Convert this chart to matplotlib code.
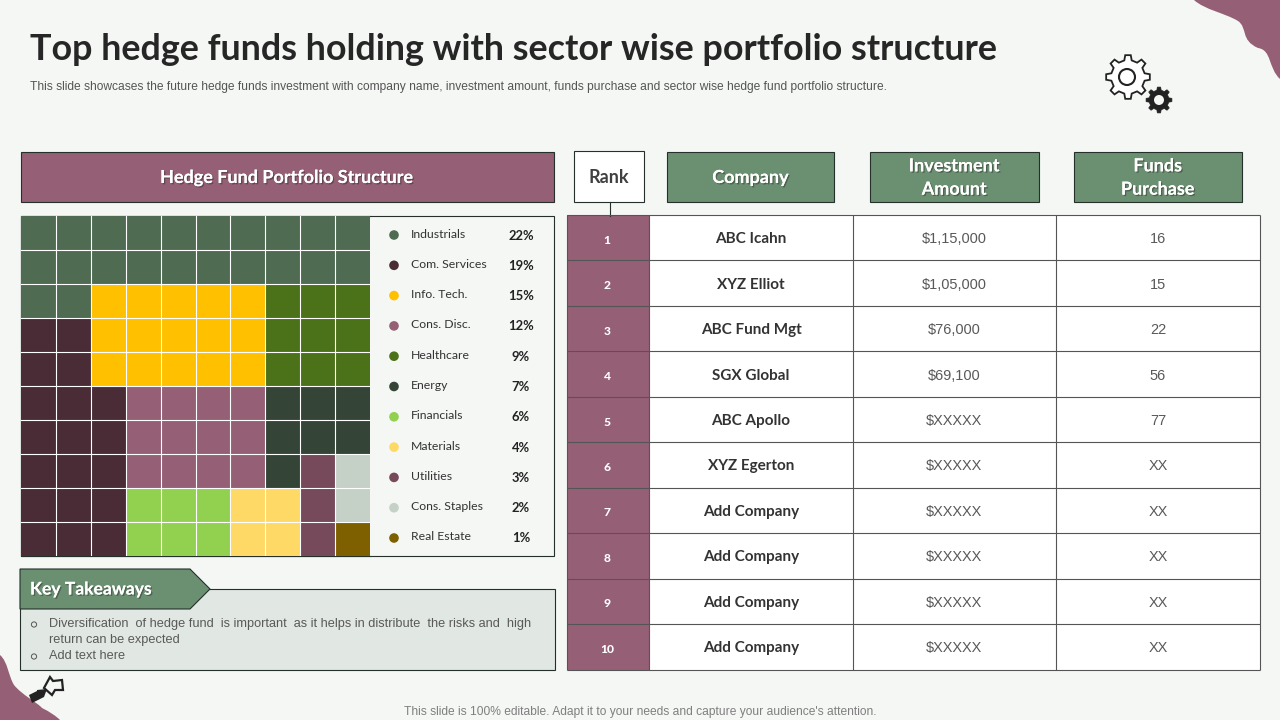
import numpy as np
import matplotlib
matplotlib.use('Agg')
import matplotlib.pyplot as plt
import matplotlib.patheffects as pe
from matplotlib.colors import ListedColormap
from matplotlib.patches import Rectangle, Polygon, PathPatch, Circle
from matplotlib.path import Path

# Data
sectors = ['Industrials', 'Com. Services', 'Info. Tech.', 'Cons. Disc.', 'Healthcare', 'Energy',
           'Financials', 'Materials', 'Utilities', 'Cons. Staples', 'Real Estate']
shares = ['22%', '19%', '15%', '12%', '9%', '7%', '6%', '4%', '3%', '2%', '1%']
sector_colors = ['#4F6B52', '#4A2C36', '#FFC000', '#955F75', '#4B7119', '#344537',
                 '#92D050', '#FFD966', '#764A5B', '#C5D0C7', '#7F6000']
# which sector every waffle cell belongs to, top row first
waffle = [
    [0, 0, 0, 0, 0, 0, 0, 0, 0, 0],
    [0, 0, 0, 0, 0, 0, 0, 0, 0, 0],
    [0, 0, 2, 2, 2, 2, 2, 4, 4, 4],
    [1, 1, 2, 2, 2, 2, 2, 4, 4, 4],
    [1, 1, 2, 2, 2, 2, 2, 4, 4, 4],
    [1, 1, 1, 3, 3, 3, 3, 5, 5, 5],
    [1, 1, 1, 3, 3, 3, 3, 5, 5, 5],
    [1, 1, 1, 3, 3, 3, 3, 5, 8, 9],
    [1, 1, 1, 6, 6, 6, 7, 7, 8, 9],
    [1, 1, 1, 6, 6, 6, 7, 7, 8, 10],
]
ranks = ['1', '2', '3', '4', '5', '6', '7', '8', '9', '10']
companies = ['ABC Icahn', 'XYZ Elliot', 'ABC Fund Mgt', 'SGX Global', 'ABC Apollo',
             'XYZ Egerton', 'Add Company', 'Add Company', 'Add Company', 'Add Company']
amounts = ['$1,15,000', '$1,05,000', '$76,000', '$69,100', '$XXXXX',
           '$XXXXX', '$XXXXX', '$XXXXX', '$XXXXX', '$XXXXX']
funds = ['16', '15', '22', '56', '77', 'XX', 'XX', 'XX', 'XX', 'XX']

BG = '#F4F7F4'
MAUVE = '#955F75'
GREEN = '#6B8F71'
DARK = '#26302A'
HEAD = 'Lato'
BODY = 'Liberation Sans'
SHADOW = [pe.withSimplePatchShadow(offset=(1, -1), shadow_rgbFace='#222222', alpha=0.4), pe.Normal()]


def px(size):
    return size * 0.72


def shadow_text(ax, x, y, s, size):
    ax.text(x, y, s, color='white', fontsize=px(size), fontfamily=HEAD, fontweight='bold',
            ha='center', va='center', linespacing=1.45, path_effects=SHADOW)


def blob(ax, verts):
    codes = [Path.MOVETO] + [Path.CURVE4] * (len(verts) - 1)
    ax.add_patch(PathPatch(Path(verts, codes), fc=MAUVE, ec='none', zorder=1))


def gear(cx, cy, r_out, r_in, teeth):
    pts = []
    for i in range(teeth):
        a = 2 * np.pi * i / teeth
        step = 2 * np.pi / teeth
        for frac, r in [(-0.28, r_in), (-0.16, r_out), (0.16, r_out), (0.28, r_in)]:
            pts.append((cx + r * np.cos(a + frac * step), cy + r * np.sin(a + frac * step)))
    return pts


fig = plt.figure(figsize=(12.8, 7.2), dpi=100, facecolor=BG)
ax = fig.add_axes([0, 0, 1, 1])
ax.set_xlim(0, 1280)
ax.set_ylim(720, 0)
ax.axis('off')

# Corner decorations
blob(ax, [(1194, 0), (1205, 10), (1225, 13), (1238, 21), (1248, 28), (1240, 40), (1258, 48),
          (1272, 50), (1268, 68), (1280, 79), (1282, 40), (1282, 20), (1280, 0), (1240, 0), (1210, 0), (1194, 0)])
blob(ax, [(0, 655), (8, 662), (8, 675), (14, 685), (22, 695), (38, 703), (42, 708),
          (50, 712), (56, 716), (60, 720), (40, 721), (20, 721), (0, 720), (-1, 700), (-1, 675), (0, 655)])

# Title
ax.text(30, 49.5, 'Top hedge funds holding with sector wise portfolio structure', color='#262626',
        fontsize=px(35.9), fontfamily=HEAD, fontweight='bold', va='center')
ax.text(30, 87, 'This slide showcases the future hedge funds investment with company name, investment amount, '
        'funds purchase and sector wise hedge fund portfolio structure.', color='#555555',
        fontsize=px(12), fontfamily=BODY, va='center')

# Gears
ax.add_patch(Polygon(gear(1128, 77, 22, 17, 8), fc='white', ec='#222222', lw=1.3, zorder=3))
ax.add_patch(Circle((1127, 77), 8, fc='white', ec='#222222', lw=1.5, zorder=4))
ax.add_patch(Polygon(gear(1159, 100, 13, 10, 8), fc='#222222', ec='#222222', lw=0.5, zorder=3))
ax.add_patch(Circle((1159, 100), 5, fc=BG, ec='none', zorder=4))

# Left header
ax.add_patch(Rectangle((21, 152), 533, 50, fc=MAUVE, ec=DARK, lw=0.8))
shadow_text(ax, 287, 177.5, 'Hedge Fund Portfolio Structure', 18)

# Legend panel and waffle
ax.add_patch(Rectangle((21, 216), 533, 340, fc=BG, ec=DARK, lw=0.8))
waffle_ax = fig.add_axes([21 / 1280, 1 - 556 / 720, 349 / 1280, 340 / 720])
waffle_ax.pcolormesh(np.array(waffle), cmap=ListedColormap(sector_colors), vmin=-0.5, vmax=10.5)
waffle_ax.invert_yaxis()
for k in range(1, 10):
    waffle_ax.axhline(k, color='white', lw=0.8)
    waffle_ax.axvline(k, color='white', lw=0.8)
waffle_ax.axis('off')
# outline goes back on top of the cells
ax.plot([370, 21, 21, 370], [216, 216, 556, 556], color=DARK, lw=0.8, zorder=5)
ax.set_zorder(2)
ax.patch.set_visible(False)
waffle_ax.set_zorder(3)

for i, (name, share, col) in enumerate(zip(sectors, shares, sector_colors)):
    y = 234 + i * 30.3
    ax.add_patch(Circle((394, y + 1), 4.8, fc=col, ec='none'))
    ax.text(411, y, name, color='#333333', fontsize=px(12.3), fontfamily=HEAD, va='center')
    ax.text(521, y + 1.5, share, color='#222222', fontsize=px(13), fontfamily=HEAD, fontweight='bold',
            ha='center', va='center')

# Key takeaways
ax.add_patch(Rectangle((20, 589), 534.5, 81, fc='#E1E7E2', ec=DARK, lw=0.8))
ax.add_patch(Polygon([(20, 569), (190, 569), (210, 589), (190, 609), (20, 609)],
                     fc=GREEN, ec=DARK, lw=0.8))
ax.text(30, 589.5, 'Key Takeaways', color='white', fontsize=px(17.5), fontfamily=HEAD, fontweight='bold',
        va='center', path_effects=SHADOW)
for y, s in [(624, 'Diversification  of hedge fund  is important  as it helps in distribute  the risks and  high'),
             (640, 'return can be expected'), (656, 'Add text here')]:
    ax.text(49, y, s, color='#595959', fontsize=px(12.7), fontfamily=BODY, va='center')
for y in [624, 656]:
    ax.add_patch(Circle((34, y + 0.5), 2.6, fc='none', ec='#555555', lw=0.7))

# Arrow icon
ax.add_patch(Polygon([(29, 695), (37, 691), (37, 690), (47, 689), (44, 697), (40, 699), (32, 703)],
                     fc='#222222', ec='none', zorder=3))
ax.add_patch(Polygon([(44, 688), (50, 677), (53, 681), (62, 680), (63, 690), (55, 690), (52, 695)],
                     fc=BG, ec='#222222', lw=1.6, zorder=3))

# Table headers
ax.add_patch(Rectangle((574, 151), 69.5, 51, fc='white', ec=DARK, lw=0.8))
ax.text(609, 177.5, 'Rank', color='#404040', fontsize=px(18), fontfamily=HEAD, fontweight='bold', ha='center', va='center')
ax.plot([609.5, 609.5], [202, 216], color=DARK, lw=0.8)
for x0, w, label in [(667, 167, 'Company'), (870, 168.5, 'Investment\nAmount'), (1074, 167.5, 'Funds\nPurchase')]:
    ax.add_patch(Rectangle((x0, 152), w, 50, fc=GREEN, ec=DARK, lw=0.8))
    shadow_text(ax, x0 + w / 2, 177.5, label, 18)

# Table
col_x = [567, 648.5, 852.5, 1055.5, 1259.5]
top, bottom = 215, 669.5
row_h = (bottom - top) / len(ranks)
ax.add_patch(Rectangle((col_x[0], top), col_x[4] - col_x[0], bottom - top, fc='white', ec='none'))
ax.add_patch(Rectangle((col_x[0], top), col_x[1] - col_x[0], bottom - top, fc=MAUVE, ec='none'))
for i in range(len(ranks) + 1):
    ax.plot([col_x[0], col_x[4]], [top + i * row_h] * 2, color='#555555', lw=0.8, solid_capstyle='butt')
for x in col_x:
    ax.plot([x, x], [top, bottom], color='#555555', lw=0.8, solid_capstyle='butt')
for i in range(len(ranks)):
    y = top + (i + 0.5) * row_h
    ax.text(607, y + 2.5, ranks[i], color='white', fontsize=px(12), fontfamily=HEAD, fontweight='black',
            ha='center', va='center')
    ax.text(751, y + 1.5, companies[i], color='#333333', fontsize=px(15.3), fontfamily=HEAD, fontweight='bold',
            ha='center', va='center')
    ax.text(954, y + 1.5, amounts[i], color='#595959', fontsize=px(14.5), fontfamily=BODY, ha='center', va='center')
    ax.text(1158, y + 1.5, funds[i], color='#595959', fontsize=px(14.5), fontfamily=BODY, ha='center', va='center')

# Footer
ax.text(640, 711.5, "This slide is 100% editable. Adapt it to your needs and capture your audience's attention.",
        color='#7F7F7F', fontsize=px(12), fontfamily=BODY, ha='center', va='center')

fig.savefig('out.png', dpi=100, facecolor=BG)
